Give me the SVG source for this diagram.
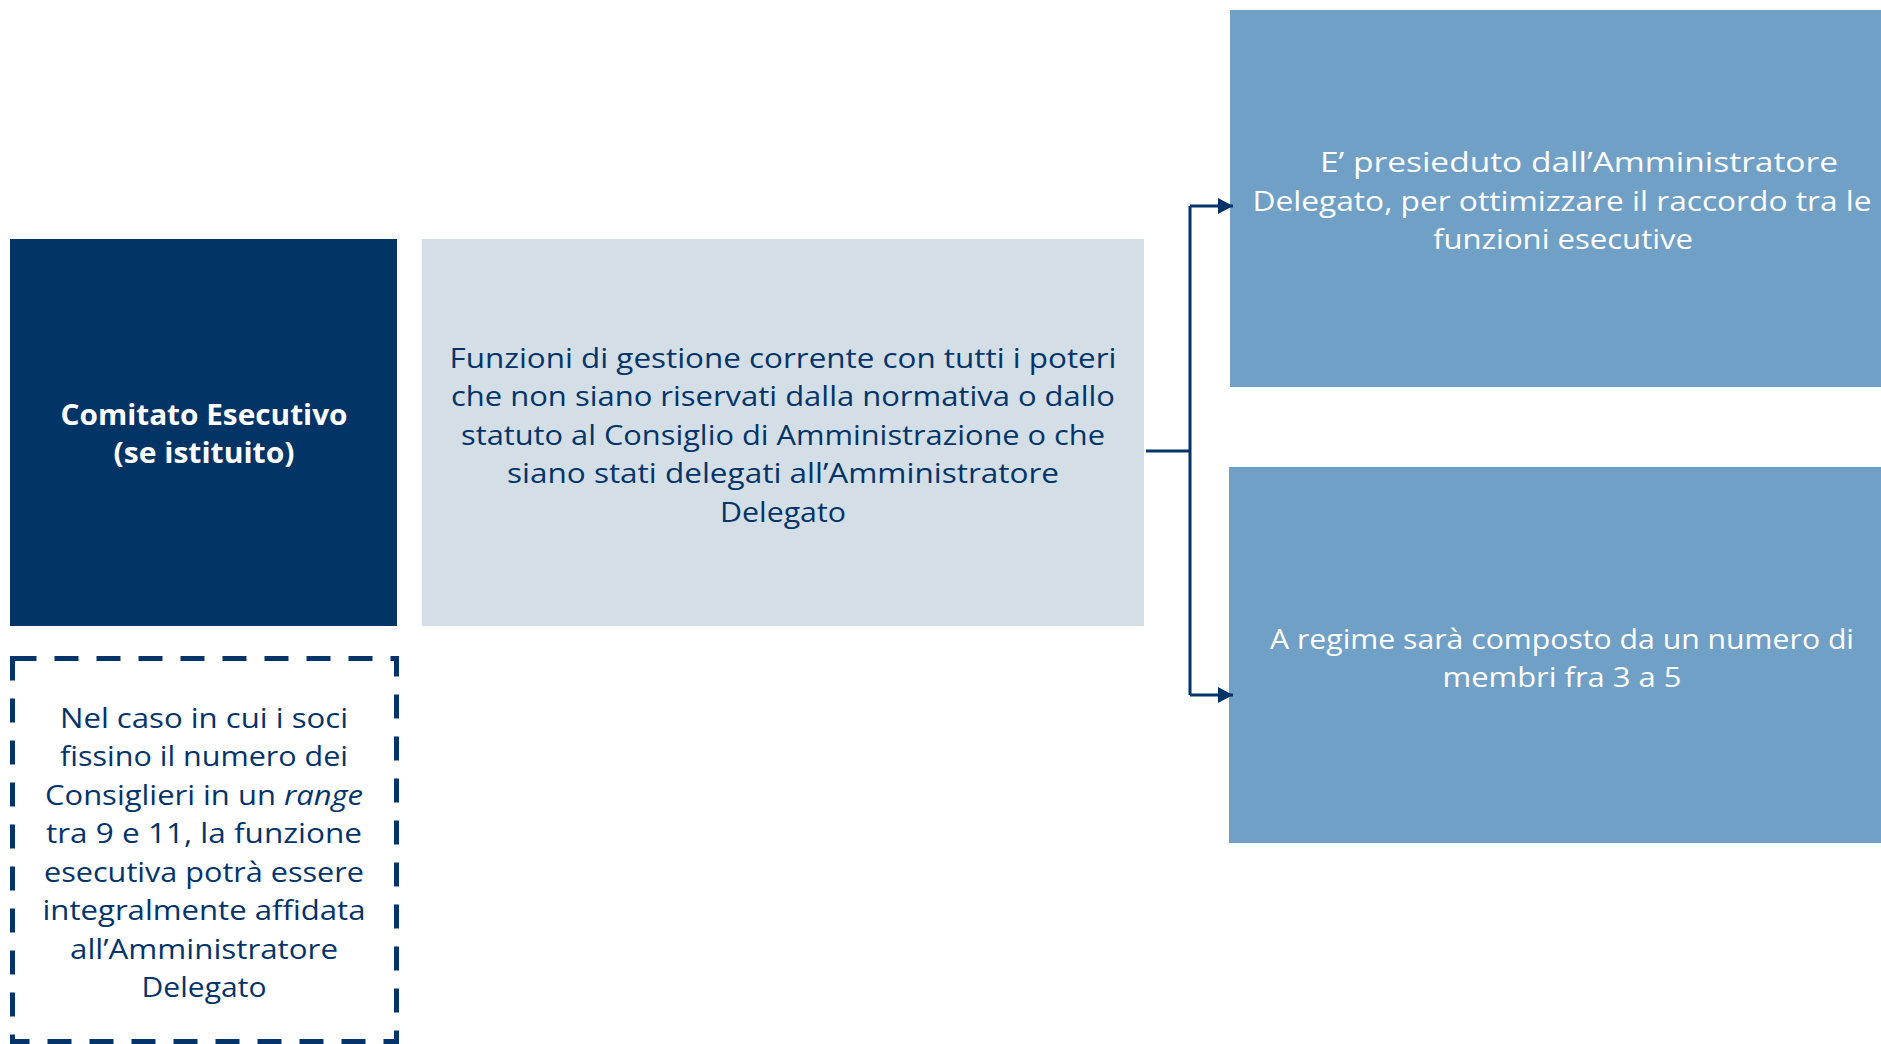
<svg xmlns="http://www.w3.org/2000/svg" width="1881" height="1044" viewBox="0 0 1881 1044">
<style>
text{font-family:"Open Sans","Liberation Sans",Arial,sans-serif;font-size:28px;text-anchor:middle}
.w{fill:#ffffff}
.d{fill:#04346A}
.conn{fill:none;stroke:#04346A;stroke-width:3}
</style>
<defs>
<marker id="ah" viewBox="0 0 10 10" refX="10" refY="5" markerWidth="15" markerHeight="16" markerUnits="userSpaceOnUse" orient="auto" preserveAspectRatio="none">
<path d="M0,0 L10,5 L0,10 z" fill="#04346A"/>
</marker>
</defs>
<rect width="1881" height="1044" fill="#ffffff"/>
<g id="comitato">
<rect x="10" y="239" width="387" height="387" fill="#033466"/>
<text class="w" x="204" y="425" font-weight="bold" textLength="287" lengthAdjust="spacingAndGlyphs">Comitato Esecutivo</text>
<text class="w" x="204" y="463" font-weight="bold" textLength="181" lengthAdjust="spacingAndGlyphs">(se istituito)</text>
</g>
<g id="funzioni">
<rect x="422" y="239" width="722" height="387" fill="#D3DEE6"/>
<text class="d" x="783" y="368" textLength="667" lengthAdjust="spacingAndGlyphs">Funzioni di gestione corrente con tutti i poteri</text>
<text class="d" x="783" y="406" textLength="664" lengthAdjust="spacingAndGlyphs">che non siano riservati dalla normativa o dallo</text>
<text class="d" x="783" y="445" textLength="644" lengthAdjust="spacingAndGlyphs">statuto al Consiglio di Amministrazione o che</text>
<text class="d" x="783" y="483" textLength="552" lengthAdjust="spacingAndGlyphs">siano stati delegati all’Amministratore</text>
<text class="d" x="783" y="522" textLength="126" lengthAdjust="spacingAndGlyphs">Delegato</text>
</g>
<g id="presieduto">
<rect x="1230" y="10" width="651" height="377" fill="#70A0C5"/>
<text class="w" x="1579" y="172" textLength="518" lengthAdjust="spacingAndGlyphs">E’ presieduto dall’Amministratore</text>
<text class="w" x="1562" y="211" textLength="619" lengthAdjust="spacingAndGlyphs">Delegato, per ottimizzare il raccordo tra le</text>
<text class="w" x="1563" y="249" textLength="260" lengthAdjust="spacingAndGlyphs">funzioni esecutive</text>
</g>
<g id="regime">
<rect x="1229" y="467" width="652" height="376" fill="#70A0C5"/>
<text class="w" x="1562" y="649" textLength="584" lengthAdjust="spacingAndGlyphs">A regime sarà composto da un numero di</text>
<text class="w" x="1562" y="687" textLength="239" lengthAdjust="spacingAndGlyphs">membri fra 3 a 5</text>
</g>
<g id="nota">
<rect x="12.5" y="658.5" width="384" height="383" fill="none" stroke="#04346A" stroke-width="5" stroke-dasharray="24 18"/>
<text class="d" x="204" y="728" textLength="288" lengthAdjust="spacingAndGlyphs">Nel caso in cui i soci</text>
<text class="d" x="204" y="766" textLength="288" lengthAdjust="spacingAndGlyphs">fissino il numero dei</text>
<text class="d" x="204" y="805" textLength="318" lengthAdjust="spacingAndGlyphs">Consiglieri in un <tspan font-style="italic">range</tspan></text>
<text class="d" x="204" y="843" textLength="316" lengthAdjust="spacingAndGlyphs">tra 9 e 11, la funzione</text>
<text class="d" x="204" y="882" textLength="320" lengthAdjust="spacingAndGlyphs">esecutiva potrà essere</text>
<text class="d" x="204" y="920" textLength="323" lengthAdjust="spacingAndGlyphs">integralmente affidata</text>
<text class="d" x="204" y="959" textLength="268" lengthAdjust="spacingAndGlyphs">all’Amministratore</text>
<text class="d" x="204" y="997" textLength="125" lengthAdjust="spacingAndGlyphs">Delegato</text>
</g>
<g id="connectors">
<path class="conn" d="M1146,451 H1190"/>
<path class="conn" d="M1190,206 V695"/>
<path class="conn" d="M1190,206 H1233" marker-end="url(#ah)"/>
<path class="conn" d="M1190,695 H1233" marker-end="url(#ah)"/>
</g>
</svg>
